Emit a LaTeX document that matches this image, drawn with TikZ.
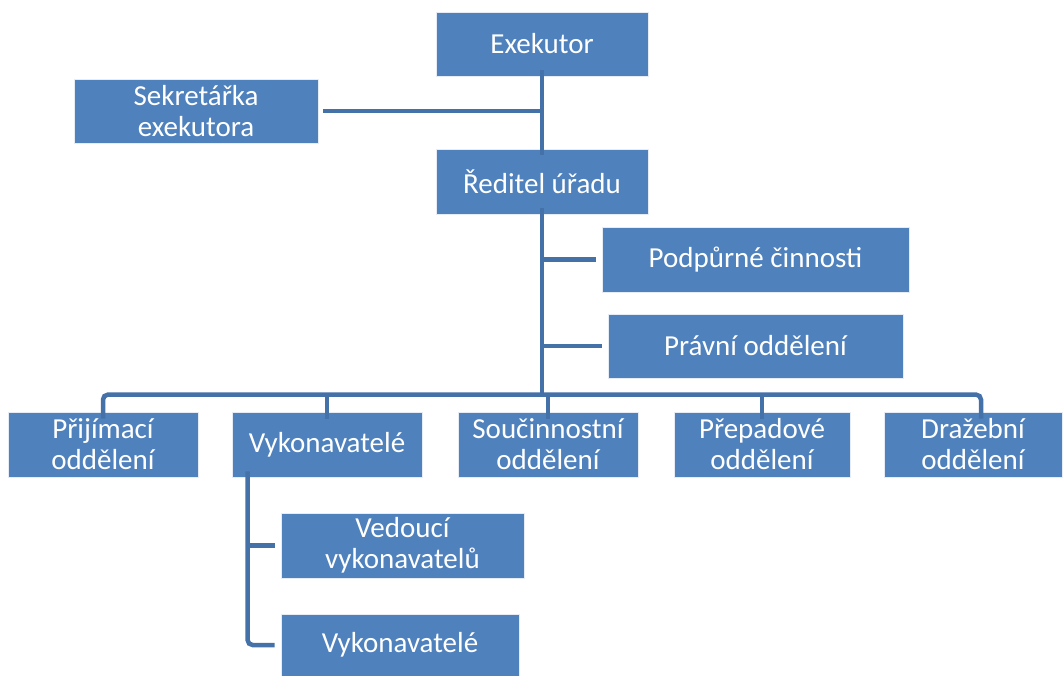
\documentclass[tikz,border=0pt]{standalone}
\usepackage{fontspec}
\setmainfont{Carlito}
\usetikzlibrary{calc}
\definecolor{boxblue}{HTML}{4F81BD}
\definecolor{lineblue}{HTML}{4472A8}
\begin{document}
\begin{tikzpicture}[x=1pt,y=-1pt,
  box/.style={draw=white!85!boxblue, line width=0.8pt, fill=boxblue, text=white,
    align=center, inner sep=0pt, minimum height=64pt,
    font=\fontsize{29}{31}\selectfont},
  conn/.style={draw=lineblue, line width=4.5pt}]
\useasboundingbox (0,0) rectangle (1063,675);
\node[box, minimum width=212pt] (exe) at (542,44) {Exekutor};
\node[box, minimum width=244pt] (sek) at (196,111) {Sekretářka\\exekutora};
\node[box, minimum width=212pt, minimum height=65pt] (red) at (542,181.5) {Ředitel úřadu};
\node[box, minimum width=307pt, minimum height=65pt] (pod) at (755.5,259.5) {Podpůrné činnosti};
\node[box, minimum width=295pt] (pra) at (755.5,346) {Právní oddělení};
\node[box, minimum width=190pt, minimum height=65pt] (pri) at (103,444.5) {Přijímací\\oddělení};
\node[box, minimum width=190pt, minimum height=65pt] (vyk) at (327,444.5) {Vykonavatelé};
\node[box, minimum width=180pt, minimum height=65pt] (sou) at (548,444.5) {Součinnostní\\oddělení};
\node[box, minimum width=176pt, minimum height=65pt] (pre) at (762,444.5) {Přepadové\\oddělení};
\node[box, minimum width=178pt, minimum height=65pt] (dra) at (973,444.5) {Dražební\\oddělení};
\node[box, minimum width=243pt, minimum height=65pt] (ved) at (402.5,545.5) {Vedoucí\\vykonavatelů};
\node[box, minimum width=238pt, minimum height=62pt] (vyk2) at (400,645) {Vykonavatelé};
% top connectors
\draw[conn] ([yshift=6pt]exe.south) -- ([yshift=-6pt]red.north);
\draw[conn] ([xshift=5pt]sek.east) -- (sek.east -| exe.south);
% director down to bus
\coordinate (bus) at ($(pri.north)+(0,-17)$);
\draw[conn] ([yshift=6pt]red.south) -- (red.south |- bus);
\draw[conn] ([xshift=-6pt]pod.west) -- (pod.west -| red.south);
\draw[conn] ([xshift=-6pt]pra.west) -- (pra.west -| red.south);
% bus
\draw[conn, rounded corners=5pt] ([yshift=-7pt]pri.north) |- ([xshift=8pt]dra.north |- bus) -- ([xshift=8pt,yshift=-7pt]dra.north);
\draw[conn] (vyk.north |- bus) -- ([yshift=-7pt]vyk.north);
\draw[conn] (sou.north |- bus) -- ([yshift=-7pt]sou.north);
\draw[conn] (pre.north |- bus) -- ([yshift=-7pt]pre.north);
% sub tree
\coordinate (sub) at ([xshift=16pt,yshift=6pt]vyk.south west);
\draw[conn, rounded corners=5pt] (sub) |- ([xshift=-6pt]vyk2.west);
\draw[conn] ([xshift=-6pt]ved.west) -- (ved.west -| sub);
\end{tikzpicture}
\end{document}
